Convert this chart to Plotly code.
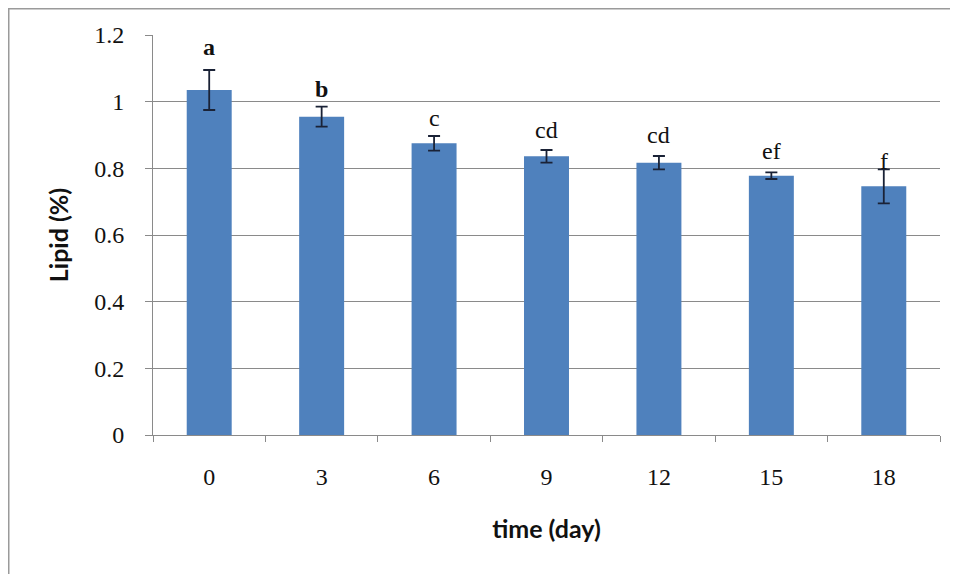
import plotly.graph_objects as go

days = ["0", "3", "6", "9", "12", "15", "18"]
lipid = [1.035, 0.955, 0.875, 0.836, 0.817, 0.778, 0.746]
lipid_err = [0.060, 0.030, 0.022, 0.019, 0.020, 0.010, 0.051]
letters = ["a", "b", "c", "cd", "cd", "ef", "f"]
letter_y = [1.164, 1.038, 0.952, 0.915, 0.900, 0.852, 0.822]
letter_bold = [True, True, False, False, False, False, False]

# page has 8px body margin; figure sized/offset to match reference pixels
W, H = 950, 566
ML, MR, MT, MB = 145, 18, 27, 139
PW, PH = W - ML - MR, H - MT - MB

fig = go.Figure()
fig.add_trace(go.Bar(
    x=days, y=lipid,
    marker=dict(color="#4F81BD", line=dict(width=0)),
    error_y=dict(type="data", array=lipid_err, visible=True,
                 color="#1a2236", thickness=1.8, width=6),
    width=0.4,
    showlegend=False,
))

for i, (t, yy, b) in enumerate(zip(letters, letter_y, letter_bold)):
    fig.add_annotation(x=i, y=yy, text=f"<b>{t}</b>" if b else t, showarrow=False,
                       font=dict(family="Liberation Serif", size=24, color="#111"),
                       yanchor="middle", xanchor="center")

grid = "#8a8a8a"
fig.update_layout(
    width=W, height=H,
    margin=dict(l=ML, r=MR, t=MT, b=MB),
    paper_bgcolor="white", plot_bgcolor="white",
    xaxis=dict(
        type="category", range=[-0.5, 6.5],
        showline=True, linecolor=grid, linewidth=1,
        ticks="outside", tickson="boundaries", ticklen=6, tickcolor=grid,
        tickfont=dict(family="Liberation Serif", size=24, color="#111"),
        ticklabelstandoff=20,
        showgrid=False,
        title=dict(text="<b>time (day)</b>", font=dict(family="Lato", size=25, color="#111"),
                   standoff=31),
    ),
    yaxis=dict(
        range=[0, 1.2], tickvals=[0, 0.2, 0.4, 0.6, 0.8, 1.0, 1.2],
        ticktext=["0", "0.2", "0.4", "0.6", "0.8", "1", "1.2"],
        showline=True, linecolor=grid, linewidth=1,
        ticks="outside", ticklen=7, tickcolor=grid,
        showgrid=True, gridcolor=grid, gridwidth=1,
        zeroline=False,
        tickfont=dict(family="Liberation Serif", size=24, color="#111"),
        ticklabelstandoff=16,
        title=dict(text="<b>Lipid (%)</b>", font=dict(family="Lato", size=25, color="#111"),
                   standoff=18),
    ),
    shapes=[dict(type="rect", xref="paper", yref="paper",
                 x0=(0.75 - ML) / PW, x1=(W + 10 - ML) / PW,
                 y0=(MT + PH - H - 10) / PH, y1=(MT + PH - 0.75) / PH,
                 line=dict(color="#9a9a9a", width=1.5), fillcolor="rgba(0,0,0,0)",
                 layer="below")],
)

fig.write_html("out.html")
